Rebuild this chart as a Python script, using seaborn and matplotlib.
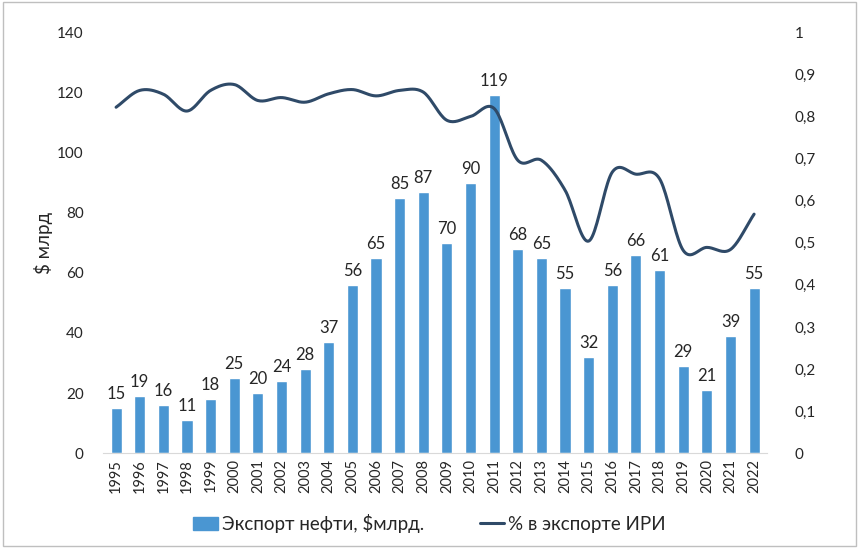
import numpy as np
import pandas as pd
import seaborn as sns
import matplotlib.pyplot as plt
from matplotlib.patches import Patch
from matplotlib.lines import Line2D

years = [str(y) for y in range(1995, 2023)]
export_bn = [15, 19, 16, 11, 18, 25, 20, 24, 28, 37, 56, 65, 85, 87, 70, 90, 119,
             68, 65, 55, 32, 56, 66, 61, 29, 21, 39, 55]
share_iri = [0.822, 0.862, 0.853, 0.813, 0.862, 0.876, 0.838, 0.845, 0.834, 0.854,
             0.864, 0.849, 0.862, 0.858, 0.791, 0.800, 0.819, 0.696, 0.696, 0.625,
             0.504, 0.668, 0.663, 0.652, 0.482, 0.489, 0.484, 0.568]

bar_color = '#4A96D2'
line_color = '#2F4A68'

sns.set_style('white')
plt.rcParams['font.family'] = ['Lato', 'DejaVu Sans']


def smooth(xs, ys, n=20):
    # catmull-rom style smoothing, like excel's smoothed line
    xs = np.asarray(xs, float)
    ys = np.asarray(ys, float)
    px = np.concatenate([[2 * xs[0] - xs[1]], xs, [2 * xs[-1] - xs[-2]]])
    py = np.concatenate([[2 * ys[0] - ys[1]], ys, [2 * ys[-1] - ys[-2]]])
    ox, oy = [], []
    for i in range(1, len(px) - 2):
        t = np.linspace(0, 1, n, endpoint=False)
        for arr, out in ((px, ox), (py, oy)):
            p0, p1, p2, p3 = arr[i - 1], arr[i], arr[i + 1], arr[i + 2]
            out.extend(0.5 * ((2 * p1) + (-p0 + p2) * t
                              + (2 * p0 - 5 * p1 + 4 * p2 - p3) * t ** 2
                              + (-p0 + 3 * p1 - 3 * p2 + p3) * t ** 3))
    ox.append(xs[-1])
    oy.append(ys[-1])
    return np.array(ox), np.array(oy)


df = pd.DataFrame({'year': years, 'export': export_bn})

fig = plt.figure(figsize=(8.59, 5.48), dpi=100)
ax = fig.add_axes([0.12, 0.173, 0.773, 0.768])
sns.barplot(data=df, x='year', y='export', color=bar_color, width=0.47,
            saturation=1, ax=ax)
ax.set_ylim(0, 140)
ax.set_yticks(range(0, 141, 20))
ax.set_xlim(-0.55, len(years) - 0.45)
ax.set_xlabel('')
ax.set_ylabel('$ млрд', fontsize=13.5, labelpad=3)
ax.tick_params(axis='x', rotation=90, labelsize=10.5, length=0, pad=4)
ax.tick_params(axis='y', labelsize=11, length=0, pad=14)
for s in ['top', 'right', 'left']:
    ax.spines[s].set_visible(False)
ax.spines['bottom'].set_color('#D9D9D9')
for i, v in enumerate(export_bn):
    ax.text(i, v + 2, str(v), ha='center', va='bottom', fontsize=12)

ax2 = ax.twinx()
sx, sy = smooth(range(len(years)), share_iri)
sns.lineplot(x=sx, y=sy, color=line_color, linewidth=2.2, ax=ax2, sort=False)
ax2.set_ylim(0, 1)
ax2.set_yticks(np.arange(0, 1.01, 0.1))
ax2.set_yticklabels(['0'] + [f'0,{k}' for k in range(1, 10)] + ['1'])
ax2.tick_params(axis='y', labelsize=11, length=0, pad=20)
for s in ax2.spines.values():
    s.set_visible(False)

handles = [Patch(color=bar_color), Line2D([0], [0], color=line_color, lw=2.2)]
fig.legend(handles, ['Экспорт нефти, $млрд.', '% в экспорте ИРИ'],
           loc='center', bbox_to_anchor=(0.5, 0.045), ncol=2, frameon=False,
           fontsize=13.5, handlelength=1.3, handletextpad=0.2, columnspacing=3.0)

fig.patches.append(plt.Rectangle((0.004, 0.004), 0.992, 0.992, transform=fig.transFigure,
                                 fill=False, edgecolor='#BFBFBF', linewidth=1))
fig.savefig('out.png', dpi=100)
